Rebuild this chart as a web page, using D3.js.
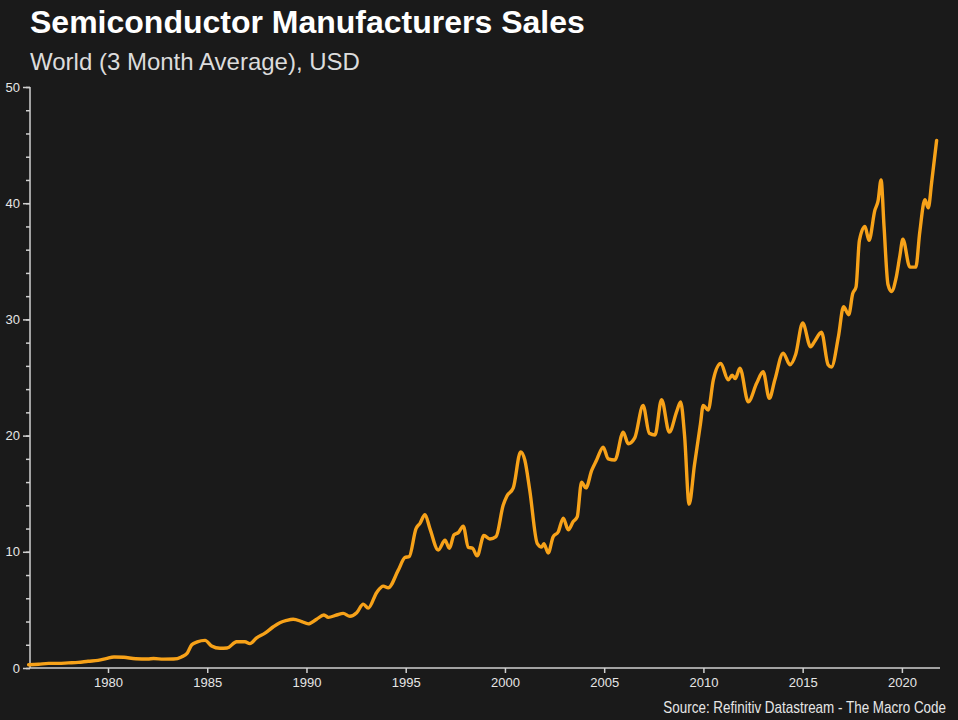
<!DOCTYPE html>
<html>
<head>
<meta charset="utf-8">
<script src="https://cdn.jsdelivr.net/npm/d3@7"></script>
<style>
  html, body { margin: 0; padding: 0; background: #1a1a1a; }
  svg { display: block; }
  .eje path, .eje line { stroke: #d0d0d0; stroke-width: 1.5; }
  .eje text { fill: #e6e6e6; font-family: "Liberation Sans", Arial, sans-serif; font-size: 13px; }
</style>
</head>
<body>
<div id="grafico"></div>
<script>
// ventas de semiconductores, leidas a ojo del grafico original (promedio 3 meses, miles de millones usd)
var fechas = [
  1976.0, 1976.5, 1977.0, 1977.5, 1978.0, 1978.5, 1979.0, 1979.5, 1979.9, 1980.3,
  1980.8, 1981.4, 1982.0, 1982.3, 1982.8, 1983.3, 1983.7, 1984.0, 1984.22, 1984.5,
  1984.89, 1985.22, 1985.64, 1986.0, 1986.48, 1986.9, 1987.15, 1987.49, 1987.91, 1988.33,
  1988.66, 1989.0, 1989.33, 1989.76, 1990.09, 1990.51, 1990.88, 1991.1, 1991.52, 1991.85,
  1992.19, 1992.53, 1992.86, 1993.11, 1993.54, 1993.87, 1994.12, 1994.62, 1994.96, 1995.18,
  1995.52, 1995.72, 1995.97, 1996.22, 1996.64, 1996.98, 1997.2, 1997.43, 1997.65, 1997.9,
  1998.15, 1998.37, 1998.6, 1998.94, 1999.24, 1999.55, 1999.91, 2000.1, 2000.42, 2000.79,
  2001.0, 2001.25, 2001.63, 2001.85, 2001.96, 2002.18, 2002.43, 2002.68, 2002.94, 2003.19,
  2003.44, 2003.64, 2003.86, 2004.08, 2004.37, 2004.62, 2004.95, 2005.2, 2005.54, 2005.96,
  2006.21, 2006.54, 2006.96, 2007.27, 2007.56, 2007.89, 2008.28, 2008.66, 2008.85, 2009.05,
  2009.28, 2009.55, 2009.85, 2009.99, 2010.24, 2010.5, 2010.87, 2011.25, 2011.45, 2011.6,
  2011.84, 2012.26, 2012.68, 2013.01, 2013.32, 2013.6, 2014.02, 2014.36, 2014.65, 2015.0,
  2015.4, 2015.6, 2015.95, 2016.28, 2016.45, 2016.8, 2017.06, 2017.32, 2017.52, 2017.69,
  2017.86, 2018.14, 2018.34, 2018.64, 2018.8, 2018.95, 2019.1, 2019.3, 2019.48, 2019.7,
  2019.9, 2020.05, 2020.4, 2020.7, 2020.9, 2021.16, 2021.33, 2021.5, 2021.75
];
var ventas = [
  0.28, 0.32, 0.40, 0.40, 0.44, 0.48, 0.58, 0.66, 0.80, 0.95,
  0.92, 0.80, 0.78, 0.82, 0.76, 0.77, 0.95, 1.3, 2.0, 2.25,
  2.38, 1.9, 1.7, 1.72, 2.26, 2.26, 2.1, 2.6, 3.0, 3.55,
  3.9, 4.1, 4.2, 4.0, 3.8, 4.2, 4.56, 4.36, 4.56, 4.7,
  4.45, 4.75, 5.5, 5.15, 6.5, 7.05, 6.9, 8.4, 9.5, 9.6,
  12.0, 12.45, 13.2, 12.0, 10.15, 11.0, 10.3, 11.45, 11.65, 12.2,
  10.4, 10.3, 9.65, 11.4, 11.1, 11.3, 14.0, 14.8, 15.5, 18.6,
  17.9, 15.3, 10.7, 10.4, 10.7, 9.9, 11.3, 11.7, 12.9, 11.9,
  12.6, 13.0, 16.0, 15.5, 17.0, 17.9, 19.0, 18.0, 17.9, 20.3,
  19.3, 19.8, 22.6, 20.2, 20.05, 23.1, 20.3, 22.1, 22.9, 20.0,
  14.1, 17.5, 21.0, 22.6, 22.2, 24.8, 26.2, 24.8, 25.2, 24.9,
  25.8, 22.9, 24.5, 25.5, 23.2, 24.8, 27.1, 26.1, 27.0, 29.7,
  27.65, 28.1, 28.9, 26.1, 25.9, 28.5, 31.1, 30.4, 32.2, 32.8,
  36.8, 38.0, 36.8, 39.4, 40.2, 42.0, 38.0, 33.0, 32.4, 33.5,
  35.5, 36.9, 34.5, 34.5, 37.5, 40.3, 39.6, 41.8, 45.4
];
var ticksAnios = [1980, 1985, 1990, 1995, 2000, 2005, 2010, 2015, 2020];
var ticksValores = [0, 10, 20, 30, 40, 50];

var titulo = "Semiconductor Manufacturers Sales";
var subtitulo = "World (3 Month Average), USD";
var fuente = "Source: Refinitiv Datastream - The Macro Code";

(function () {
  var ANCHO = 958, ALTO = 720;
  var NARANJA = "#f7a219";

  var svg = d3.select("#grafico").append("svg")
    .attr("width", ANCHO)
    .attr("height", ALTO);

  svg.append("rect").attr("width", ANCHO).attr("height", ALTO).attr("fill", "#1a1a1a");

  // escalas: el eje x arranca un pelito despues de 1976 como en el original
  var x = d3.scaleLinear().domain([1976.07, 2021.92]).range([30, 940]);
  var y = d3.scaleLinear().domain([0, 50]).range([668, 87]);

  svg.append("text")
    .attr("x", 30).attr("y", 33)
    .attr("fill", "#ffffff")
    .attr("font-family", "'Liberation Sans', Arial, sans-serif")
    .attr("font-weight", "bold")
    .attr("font-size", 32)
    .text(titulo);

  svg.append("text")
    .attr("x", 30).attr("y", 70)
    .attr("fill", "#dcdcdc")
    .attr("font-family", "'Liberation Sans', Arial, sans-serif")
    .attr("font-size", 24)
    .text(subtitulo);

  // eje y: rayitas chicas cada 2 y etiquetas cada 10
  var ejeY = svg.append("g").attr("class", "eje")
    .attr("transform", "translate(30,0)")
    .call(d3.axisLeft(y).tickValues(d3.range(0, 51, 2)).tickSize(4).tickFormat(""));
  ejeY.select(".domain").remove();
  ejeY.append("line").attr("x1", 0).attr("x2", 0).attr("y1", y(0)).attr("y2", y(50))
    .attr("stroke", "#d0d0d0").attr("stroke-width", 1.5);

  var ejeYMayor = svg.append("g").attr("class", "eje")
    .attr("transform", "translate(30,0)")
    .call(d3.axisLeft(y).tickValues(ticksValores).tickSize(7).tickPadding(3).tickFormat(d3.format("d")));
  ejeYMayor.select(".domain").remove();

  var ejeX = svg.append("g").attr("class", "eje")
    .attr("transform", "translate(0," + y(0) + ")")
    .call(d3.axisBottom(x).tickValues(ticksAnios).tickSize(5).tickPadding(5).tickFormat(d3.format("d")));
  ejeX.select(".domain").attr("d", "M30,0H940");

  var puntos = fechas.map(function (f, i) { return { fecha: f, valor: ventas[i] }; });

  // curva monotona para que no quede tan quebrada, sin inventar picos
  var linea = d3.line()
    .curve(d3.curveMonotoneX)
    .x(function (d) { return x(d.fecha); })
    .y(function (d) { return y(d.valor); });

  svg.append("path")
    .datum(puntos)
    .attr("fill", "none")
    .attr("stroke", NARANJA)
    .attr("stroke-width", 3.4)
    .attr("stroke-linejoin", "round")
    .attr("stroke-linecap", "round")
    .attr("d", linea);

  // no hay arial narrow, asi que apretamos el texto a lo ancho
  svg.append("text")
    .attr("transform", "translate(946,713) scale(0.84,1)")
    .attr("text-anchor", "end")
    .attr("fill", "#e6e6e6")
    .attr("font-family", "'Liberation Sans', Arial, sans-serif")
    .attr("font-size", 16)
    .text(fuente);
})();
</script>
</body>
</html>
